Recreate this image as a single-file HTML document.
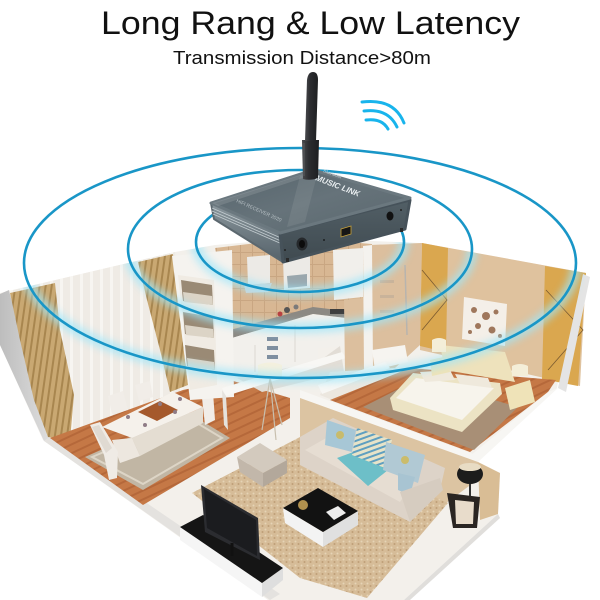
<!DOCTYPE html>
<html><head><meta charset="utf-8"><style>
html,body{margin:0;padding:0;background:#fff;}
svg{display:block}
</style></head><body>
<svg width="600" height="600" viewBox="0 0 600 600" xmlns="http://www.w3.org/2000/svg">
<defs>
 <filter id="blur4" x="-20%" y="-20%" width="140%" height="140%"><feGaussianBlur stdDeviation="4"/></filter>
 <clipPath id="houseClip"><polygon points="0,293 175,252 215,245 300,238 420,243 586,273 584,290 567,330 557,388 473,462 500,473 498,514 404,600 268,600 43,440 0,345"/></clipPath>
 <linearGradient id="topG" x1="0" y1="0" x2="1" y2="1">
  <stop offset="0" stop-color="#56646c"/><stop offset="0.5" stop-color="#66737a"/><stop offset="1" stop-color="#5a676e"/>
 </linearGradient>
 <linearGradient id="sideG" x1="0" y1="0" x2="0" y2="1">
  <stop offset="0" stop-color="#8a969c"/><stop offset="1" stop-color="#55626a"/>
 </linearGradient>
 <linearGradient id="frontG" x1="0" y1="0" x2="0" y2="1">
  <stop offset="0" stop-color="#525f66"/><stop offset="1" stop-color="#3f4a50"/>
 </linearGradient>
 <linearGradient id="antG" x1="0" y1="0" x2="1" y2="0">
  <stop offset="0" stop-color="#4a4b4e"/><stop offset="0.4" stop-color="#2c2d30"/><stop offset="1" stop-color="#1e1f21"/>
 </linearGradient>
 <linearGradient id="leftWall" x1="0" y1="0" x2="1" y2="0">
  <stop offset="0" stop-color="#bdbdbd"/><stop offset="1" stop-color="#dedede"/>
 </linearGradient>
 <pattern id="curtain" width="6" height="6" patternUnits="userSpaceOnUse" patternTransform="rotate(8)">
  <rect width="6" height="6" fill="#c9a872"/><rect width="2" height="6" fill="#a8864f"/>
 </pattern>
 <pattern id="sheer" width="10" height="10" patternUnits="userSpaceOnUse">
  <rect width="10" height="10" fill="#efebe5"/><rect width="3" height="10" fill="#f7f5f1"/>
 </pattern>
 <pattern id="carpet" width="6" height="6" patternUnits="userSpaceOnUse">
  <rect width="6" height="6" fill="#d6bc98"/><circle cx="1.5" cy="1.5" r="1" fill="#e6d3b6"/><circle cx="4.5" cy="4" r="1" fill="#bf9f78"/>
 </pattern>
 <pattern id="wood" width="8" height="8" patternUnits="userSpaceOnUse" patternTransform="rotate(-25)">
  <rect width="8" height="8" fill="#c57846"/><rect width="8" height="2" fill="#b5683a"/>
 </pattern>
 <pattern id="tile" width="12" height="12" patternUnits="userSpaceOnUse">
  <rect width="12" height="12" fill="#d8b793"/><rect width="12" height="1" fill="#c9a682"/><rect width="1" height="12" fill="#c9a682"/>
 </pattern>
 <pattern id="stripe" width="5" height="5" patternUnits="userSpaceOnUse" patternTransform="rotate(70)">
  <rect width="5" height="5" fill="#e7e3c8"/><rect width="2" height="5" fill="#5f9fc0"/>
 </pattern>
</defs>

<rect width="600" height="600" fill="#fff"/>

<!-- Title -->
<text x="101" y="34" font-family="Liberation Sans, Arial, sans-serif" font-size="32" fill="#111" textLength="419" lengthAdjust="spacingAndGlyphs">Long Rang &amp; Low Latency</text>
<text x="173" y="64" font-family="Liberation Sans, Arial, sans-serif" font-size="18.5" fill="#111" textLength="258" lengthAdjust="spacingAndGlyphs">Transmission Distance&gt;80m</text>

<!-- wifi icon -->
<g fill="none" stroke="#18b4ec" stroke-width="3" stroke-linecap="round">
 <path d="M362,102 Q394,98 404,123"/>
 <path d="M364,111 Q388,108 397,127"/>
 <path d="M366,120 Q382,118 388,129"/>
</g>

<!-- ===== HOUSE ===== -->
<polygon points="0,293 175,252 215,245 300,238 420,243 586,273 584,290 567,330 557,388 473,462 500,473 498,514 404,600 268,600 43,440 0,345" fill="#f3f0eb"/>
<polygon points="0,294 9,290 50,437 44,441 0,345" fill="url(#leftWall)"/>
<polygon points="44,441 50,437 280,594 270,600" fill="#e4e2df"/>
<polygon points="404,600 498,514 500,518 410,600" fill="#e0dedb"/>

<!-- dining back wall / sheer curtains -->
<polygon points="9,291 175,252 183,392 50,437" fill="url(#sheer)"/>
<polygon points="10,293 55,283 60,330 74,395 70,440 48,437 34,400 20,340" fill="url(#curtain)"/>
<polygon points="138,262 173,254 178,300 188,385 170,392 160,350 147,300" fill="url(#curtain)"/>
<!-- dining floor -->
<polygon points="50,438 183,390 230,380 290,398 290,418 143,505" fill="url(#wood)"/>
<polygon points="85,457 187,412 230,438 143,490" fill="#c1b6a4"/>
<polygon points="92,457 187,417 222,438 143,484" fill="none" stroke="#ddd5c6" stroke-width="2"/>
<!-- dining table -->
<polygon points="132,438 203,407 203,423 140,456" fill="#e4ddd2"/>
<polygon points="112,440 132,438 140,456 120,463" fill="#ede7df"/>
<polygon points="102,427 173,392 203,407 132,438" fill="#f5f1eb"/>
<polygon points="138,412 160,401 178,410 157,421" fill="#a5592c"/>
<g fill="#8f7c86"><circle cx="128" cy="417" r="2"/><circle cx="145" cy="425" r="2"/><circle cx="160" cy="404" r="2"/><circle cx="180" cy="399" r="2"/><circle cx="175" cy="412" r="2"/></g>
<polygon points="90,425 100,422 118,452 117,478 109,480 104,455" fill="#efebe5"/>
<polygon points="92,427 99,425 112,448 106,453" fill="#e0dad2"/>
<polygon points="108,396 123,391 128,410 112,414" fill="#f1ede8"/>
<polygon points="135,385 150,381 153,397 139,401" fill="#f1ede8"/>
<polygon points="200,380 212,378 215,420 205,425" fill="#f1ede8"/>

<!-- kitchen -->
<polygon points="215,248 300,238 372,244 372,315 232,336" fill="url(#tile)"/>
<polygon points="247,257 270,255 270,283 248,285" fill="#eceae6"/>
<polygon points="283,258 310,256 310,288 284,290" fill="#eceae6"/>
<polygon points="287,276 307,274 307,286 288,288" fill="#9aa7ad"/>
<polygon points="244,285 272,283 268,292 246,293" fill="#cfd3d5"/>
<polygon points="333,250 363,248 363,297 334,300" fill="#f1efeb"/>
<polygon points="230,330 313,307 362,313 362,320 313,314 232,338" fill="#8c8983"/>
<polygon points="232,338 313,314 362,320 362,345 318,348 318,362 235,378" fill="#f2f0ec"/>
<g fill="#7f8fa0"><rect x="267" y="337" width="11" height="4"/><rect x="267" y="346" width="11" height="4"/><rect x="267" y="355" width="11" height="4"/></g>
<line x1="255" y1="345" x2="255" y2="372" stroke="#dcd8d2" stroke-width="1"/>
<line x1="295" y1="325" x2="295" y2="362" stroke="#dcd8d2" stroke-width="1"/>
<polygon points="237,378 318,362 340,346 344,372 262,392" fill="#e2ddd6"/>
<circle cx="287" cy="310" r="3" fill="#555"/><circle cx="280" cy="314" r="2.5" fill="#b84040"/><circle cx="296" cy="307" r="2.5" fill="#7a7a7a"/>
<rect x="330" y="309" width="16" height="5" fill="#3e3e3e"/>
<!-- left white partition with shelf -->
<polygon points="172,256 232,250 234,397 190,400" fill="#f5f3ef"/>
<polygon points="178,275 214,280 217,385 190,390" fill="#f0ebe3"/>
<g fill="#9a8a75">
 <polygon points="181,280 212,285 213,305 183,301"/>
 <polygon points="183,312 213,317 214,338 185,334"/>
 <polygon points="185,345 214,350 215,370 187,366"/>
</g>
<g fill="#dcd4c6">
 <polygon points="183,292 212,296 213,305 184,302"/>
 <polygon points="185,325 213,329 214,338 186,335"/>
 <polygon points="187,358 214,362 215,370 188,367"/>
</g>
<!-- partition walls -->
<polygon points="222,388 342,352 346,358 226,396" fill="#f8f7f4"/>
<polygon points="222,390 226,396 228,430 224,425" fill="#e5e2dd"/>
<!-- floor lamp -->
<g stroke="#c8bfae" stroke-width="1.2"><line x1="270" y1="378" x2="262" y2="430"/><line x1="270" y1="378" x2="276" y2="440"/><line x1="270" y1="378" x2="282" y2="425"/></g>
<path d="M258,365 Q270,360 282,365 L282,377 Q270,381 258,377 Z" fill="#f4f0de"/>

<!-- bathroom -->
<polygon points="370,245 422,243 420,345 395,368 345,372 344,300 363,298" fill="#dcbf9e"/>
<polygon points="363,246 372,245 373,368 364,372" fill="#f4f2ee"/>
<polygon points="372,350 405,345 408,362 375,370" fill="#f6f4f0"/>
<g fill="#c9b39a"><rect x="380" y="280" width="14" height="3"/><rect x="380" y="295" width="14" height="3"/><rect x="380" y="310" width="14" height="3"/></g>
<line x1="405" y1="265" x2="407" y2="335" stroke="#b8b4ae" stroke-width="1.5"/>
<polygon points="330,372 395,368 420,380 420,392 345,405 320,395" fill="#ece7df"/>
<polygon points="318,385 385,362 390,368 322,394" fill="#f8f7f4"/>

<!-- bedroom back wall -->
<polygon points="422,243 586,273 580,386 420,350" fill="#dfc29e"/>
<polygon points="422,243 448,248 446,352 420,346" fill="#daa74f"/>
<polygon points="545,266 586,273 578,386 542,379" fill="#daa74f"/>
<g stroke="#7a5a30" stroke-width="0.8" fill="none">
 <path d="M422,270 L447,300 L422,330"/><path d="M546,290 L583,330 L548,370"/>
</g>
<polygon points="464,297 507,304 505,346 462,339" fill="#f4efe8"/>
<g fill="#8a5a3a" opacity="0.8"><circle cx="474" cy="310" r="3"/><circle cx="486" cy="316" r="4"/><circle cx="496" cy="312" r="2.5"/><circle cx="478" cy="326" r="3"/><circle cx="492" cy="330" r="3.5"/><circle cx="470" cy="332" r="2"/><circle cx="500" cy="336" r="2"/></g>
<polygon points="330,400 410,368 556,380 548,392 470,452" fill="url(#wood)"/>
<polygon points="363,407 420,378 518,407 474,450" fill="#a88f76"/>
<polygon points="440,345 505,352 515,382 445,370" fill="#eee2bc"/>
<polygon points="390,398 413,373 500,383 502,394 462,432 393,410" fill="#ece3c4"/>
<polygon points="396,398 416,378 494,388 462,420" fill="#f7f4ec"/>
<polygon points="420,372 450,370 455,380 425,382" fill="#efe9dc"/>
<polygon points="455,374 488,378 492,388 460,384" fill="#efe9dc"/>
<polygon points="505,388 530,380 535,402 510,410" fill="#efe3b8"/>
<path d="M512,366 Q520,362 528,366 L528,376 L512,376 Z" fill="#f4eed8"/>
<polygon points="430,360 448,356 450,372 432,376" fill="#efe3b8"/>
<path d="M432,340 Q439,336 446,340 L446,352 L432,352 Z" fill="#f4eed8"/>
<polygon points="583,274 590,277 566,392 558,388" fill="#e4e4e4"/>
<polygon points="300,390 476,455 478,462 300,398" fill="#f7f6f3"/>
<polygon points="548,392 558,388 478,462 470,456" fill="#f7f6f3"/>

<!-- living -->
<polygon points="300,398 478,462 480,478 446,503 300,440" fill="#dcc4a2"/>
<polygon points="478,462 500,473 498,514 480,520" fill="#d9bd95"/>
<polygon points="192,493 300,437 448,503 367,598 300,578" fill="url(#carpet)"/>
<polygon points="300,437 333,418 445,468 440,490 410,522 300,465" fill="#ddd3c8"/>
<polygon points="305,450 335,433 420,472 400,502" fill="#e6ddd2"/>
<polygon points="337,458 356,451 388,470 368,486" fill="#6dbfc8"/>
<polygon points="327,420 356,430 352,452 325,445" fill="#a7c7d6"/>
<polygon points="357,428 392,440 385,468 352,455" fill="url(#stripe)"/>
<polygon points="386,442 425,455 418,483 383,470" fill="#b1c9d4"/>
<polygon points="398,473 415,477 410,495 398,490" fill="#a8c4d2"/>
<polygon points="400,492 440,478 443,490 410,522" fill="#d6ccc0"/>
<circle cx="340" cy="435" r="4" fill="#d6b73e" opacity="0.7"/><circle cx="405" cy="460" r="4" fill="#d6b73e" opacity="0.7"/>
<polygon points="447,493 480,497 477,528 453,528" fill="#2a2522"/>
<polygon points="455,500 474,502 473,524 456,524" fill="#e8dccb"/>
<line x1="470" y1="480" x2="470" y2="496" stroke="#333" stroke-width="2"/>
<ellipse cx="470" cy="474" rx="13" ry="10" fill="#1c1c1c"/>
<ellipse cx="470" cy="467" rx="11" ry="4" fill="#e8dcc4"/>
<polygon points="237,457 263,473 263,487 240,472" fill="#c2b7aa"/>
<polygon points="263,473 287,460 287,473 263,487" fill="#b3a89b"/>
<polygon points="237,457 260,443 287,460 263,473" fill="#d3cabe"/>
<polygon points="283,508 323,532 323,547 285,523" fill="#f3f3f3"/>
<polygon points="323,532 358,511 358,525 323,547" fill="#e0e0e0"/>
<polygon points="283,508 318,488 358,511 323,532" fill="#121212"/>
<circle cx="303" cy="505" r="5" fill="#b0904e"/>
<polygon points="326,512 338,506 346,513 334,520" fill="#eeeeee"/>
<polygon points="180,527 262,583 262,597 180,540" fill="#f5f5f5"/>
<polygon points="262,583 283,568 283,580 262,597" fill="#dedede"/>
<polygon points="180,527 203,515 283,568 262,583" fill="#151515"/>
<polygon points="201,485 258,518 260,560 205,532" fill="#2b2c30"/>
<polygon points="204,489 256,520 257,556 207,528" fill="#1b1c1f"/>
<line x1="232" y1="543" x2="232" y2="556" stroke="#111" stroke-width="3"/>

<!-- ===== SIGNAL ELLIPSES ===== -->
<g clip-path="url(#houseClip)" filter="url(#blur4)" fill="none" stroke="#9fe6fa" stroke-width="10" opacity="0.75">
 <ellipse cx="300" cy="263" rx="276" ry="115"/>
 <ellipse cx="300" cy="249" rx="172" ry="79"/>
 <ellipse cx="300" cy="242" rx="104" ry="50"/>
</g>
<g fill="none" stroke="#1996c7" stroke-width="2.6">
 <ellipse cx="300" cy="263" rx="276" ry="115"/>
 <ellipse cx="300" cy="249" rx="172" ry="79"/>
 <ellipse cx="300" cy="242" rx="104" ry="50"/>
</g>

<!-- ===== DEVICE ===== -->
<polygon points="211,203 280,233 283,262 214,219" fill="url(#sideG)" stroke="#5c686f" stroke-width="2" stroke-linejoin="round"/>
<g stroke="#c3ccd0" stroke-width="0.8">
 <line x1="212" y1="208" x2="281" y2="238"/>
 <line x1="212" y1="211" x2="281" y2="241"/>
 <line x1="213" y1="214" x2="282" y2="244"/>
</g>
<polygon points="280,233 410,200 405,229 283,262" fill="url(#frontG)" stroke="#46525a" stroke-width="3" stroke-linejoin="round"/>
<polygon points="211,203 313,170 410,198 280,233" fill="url(#topG)" stroke="#6b787f" stroke-width="3" stroke-linejoin="round"/>
<polygon points="300,176 318,171 305,222 287,227" fill="#ffffff" opacity="0.08"/>
<polygon points="212,203 313,171 318,173 218,206" fill="#ffffff" opacity="0.12"/>
<text x="0" y="0" font-family="Liberation Sans, Arial, sans-serif" font-size="8" font-style="italic" font-weight="bold" fill="#e9eef0" transform="translate(315,180) rotate(21)">MUSIC LINK</text>
<text x="0" y="0" font-family="Liberation Sans, Arial, sans-serif" font-size="4.5" fill="#d0d8dc" transform="translate(323,172) rotate(20)">Bluetooth</text>
<text x="0" y="0" font-family="Liberation Sans, Arial, sans-serif" font-size="5" fill="#c8d0d4" opacity="0.8" transform="translate(236,202) rotate(24)">HIFI RECEIVER 2020</text>
<ellipse cx="302" cy="244" rx="5.5" ry="6.5" fill="#26292c"/>
<ellipse cx="302" cy="244" rx="3" ry="4" fill="#0c0c0c"/>
<polygon points="341,229 351,226 351,234 341,237" fill="#161616" stroke="#c9a23a" stroke-width="0.8"/>
<ellipse cx="390" cy="216" rx="3.5" ry="4.5" fill="#111"/>
<circle cx="324" cy="240" r="0.9" fill="#111"/>
<circle cx="285" cy="250" r="1" fill="#222"/><circle cx="401" cy="210" r="1" fill="#222"/>
<rect x="286" y="258" width="3" height="4" fill="#2a2a2a"/><rect x="400" y="228" width="3" height="4" fill="#2a2a2a"/>

<!-- antenna -->
<path d="M302,140 L319,140 L318,178 Q310,181 303,179 Z" fill="url(#antG)"/>
<path d="M305,141 L307,80 Q308,72 313,72 Q318,72 318,80 L316,141 Z" fill="url(#antG)"/>
<line x1="304" y1="143" x2="304" y2="176" stroke="#5a5b5e" stroke-width="1"/>
</svg>
</body></html>
